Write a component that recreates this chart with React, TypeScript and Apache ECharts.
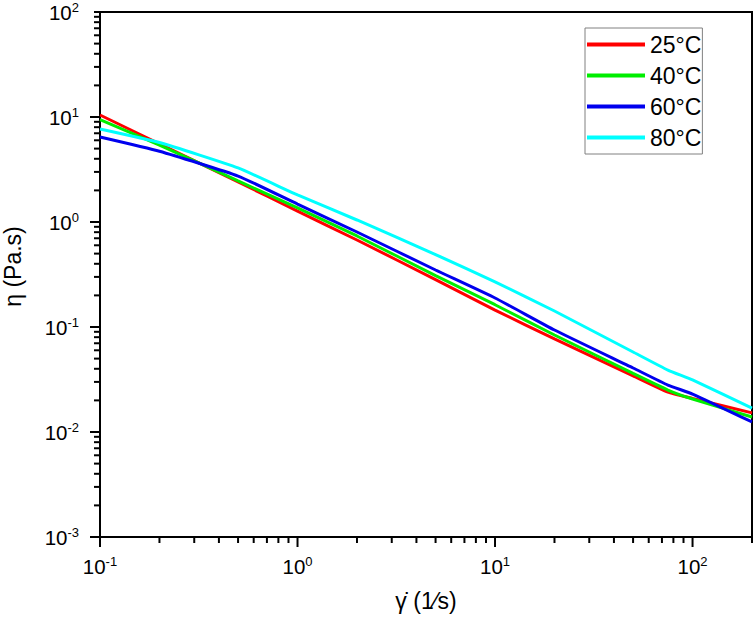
import React, { useEffect, useRef } from "react";
import * as echarts from "echarts";

const FONT = "'Liberation Sans', Arial, sans-serif";

const shearRates = [0.1, 0.2, 0.5, 1, 2, 5, 10, 20, 50, 75, 100, 200];
const eta25 = [10.45, 5.55, 2.41, 1.27, 0.674, 0.283, 0.145, 0.077, 0.0343, 0.024, 0.0209, 0.0152];
const eta40 = [9.46, 5.41, 2.46, 1.36, 0.736, 0.309, 0.163, 0.0839, 0.0361, 0.0251, 0.0206, 0.0139];
const eta60 = [6.45, 4.72, 2.74, 1.48, 0.803, 0.349, 0.189, 0.0936, 0.0407, 0.028, 0.023, 0.01246];
const eta80 = [7.69, 5.71, 3.27, 1.81, 1.045, 0.49, 0.269, 0.142, 0.0578, 0.0389, 0.0313, 0.0169];

const seriesNames = ["25°C", "40°C", "60°C", "80°C"];
const seriesColors = ["#ff0000", "#00ee00", "#0000ee", "#00ffff"];
const seriesValues = [eta25, eta40, eta60, eta80];

const X_MIN = 0.1;
const X_MAX = 200;
const Y_MIN = 0.001;
const Y_MAX = 100;
const xDecades = [0.1, 1, 10, 100];
const yDecades = [0.001, 0.01, 0.1, 1, 10];
const mantissas = [1, 2, 3, 4, 5, 6, 7, 8, 9];

function tickList(decades: number[], lo: number, hi: number) {
  const out: { v: number; major: boolean }[] = [];
  decades.forEach((d) => {
    mantissas.forEach((m) => {
      const v = +(d * m).toPrecision(6);
      if (v >= lo * 0.9999 && v <= hi * 1.0001) out.push({ v, major: m === 1 });
    });
  });
  if (!out.some((t) => Math.abs(t.v - hi) / hi < 1e-6)) out.push({ v: hi, major: false });
  return out;
}

function powLabel(v: number) {
  const l = Math.log10(v);
  const e = Math.round(l);
  if (Math.abs(l - e) > 1e-6) return "";
  return `{b|10}{s|${e}}`;
}

const labelRich = {
  b: { fontSize: 20.5, fontFamily: FONT, color: "#000", lineHeight: 23 },
  s: { fontSize: 13, fontFamily: FONT, color: "#000", verticalAlign: "top", lineHeight: 13 },
};

export default function App() {
  const ref = useRef<HTMLDivElement>(null);
  useEffect(() => {
    if (!ref.current) return;
    const chart = echarts.init(ref.current, undefined, { renderer: "svg" });
    const xTicks = tickList(xDecades, X_MIN, X_MAX);
    const yTicks = tickList(yDecades, Y_MIN, Y_MAX);

    const lineSeries = seriesNames.map((name, i) => ({
      name,
      type: "line",
      data: shearRates.map((x, j) => [x, seriesValues[i][j]]),
      symbol: "none",
      smooth: 0.15,
      lineStyle: { color: seriesColors[i], width: 3 },
      itemStyle: { color: seriesColors[i] },
      z: 3,
    }));

    const option: any = {
      animation: false,
      backgroundColor: "#fff",
      textStyle: { fontFamily: FONT },
      grid: {
        left: 100,
        top: 12,
        right: 2,
        bottom: 80,
        show: true,
        borderColor: "#000",
        borderWidth: 2,
        containLabel: false,
        outerBoundsMode: "none",
      },
      legend: {
        data: seriesNames,
        left: 585,
        top: 28,
        orient: "vertical",
        icon: "rect",
        itemWidth: 58,
        itemHeight: 4,
        itemGap: 8,
        padding: [5, 1, 5, 2],
        borderColor: "#808080",
        borderWidth: 1,
        backgroundColor: "#fff",
        textStyle: { fontSize: 23, fontFamily: FONT, color: "#000", lineHeight: 23 },
      },
      xAxis: {
        type: "log",
        min: X_MIN,
        max: X_MAX,
        logBase: 10,
        name: "\u03B3\u0307 (1\u2044s)",
        nameLocation: "middle",
        nameGap: 52,
        nameTextStyle: { fontSize: 23, fontFamily: FONT, color: "#000" },
        axisLine: { show: true, lineStyle: { color: "#000", width: 2 } },
        axisTick: { show: false },
        splitLine: { show: false },
        minorTick: { show: false },
        axisLabel: { margin: 18, formatter: powLabel, rich: labelRich, showMinLabel: true, showMaxLabel: true },
      },
      yAxis: {
        type: "log",
        min: Y_MIN,
        max: Y_MAX,
        logBase: 10,
        name: "\u03B7 (Pa.s)",
        nameLocation: "middle",
        nameGap: 76,
        nameTextStyle: { fontSize: 23, fontFamily: FONT, color: "#000", padding: [0, 0, 0, 16] },
        axisLine: { show: true, lineStyle: { color: "#000", width: 2 } },
        axisTick: { show: false },
        splitLine: { show: false },
        minorTick: { show: false },
        axisLabel: { margin: 21, formatter: powLabel, rich: labelRich },
      },
      series: lineSeries,
    };
    chart.setOption(option);

    const graphics: any[] = [];
    xTicks.forEach((t) => {
      const p = chart.convertToPixel({ gridIndex: 0 }, [t.v, Y_MIN]) as number[];
      const len = t.major ? 10 : 6;
      graphics.push({
        type: "line",
        silent: true,
        z: 10,
        shape: { x1: p[0], y1: p[1], x2: p[0], y2: p[1] + len },
        style: { stroke: "#000", lineWidth: 2 },
      });
    });
    yTicks.forEach((t) => {
      const p = chart.convertToPixel({ gridIndex: 0 }, [X_MIN, t.v]) as number[];
      const len = t.major ? 10 : 6;
      graphics.push({
        type: "line",
        silent: true,
        z: 10,
        shape: { x1: p[0], y1: p[1], x2: p[0] - len, y2: p[1] },
        style: { stroke: "#000", lineWidth: 2 },
      });
    });
    chart.setOption({ graphic: graphics });
    return () => chart.dispose();
  }, []);
  return (
    <div
      ref={ref}
      style={{ position: "absolute", left: 0, top: 0, width: 754, height: 617, background: "#fff" }}
    />
  );
}
